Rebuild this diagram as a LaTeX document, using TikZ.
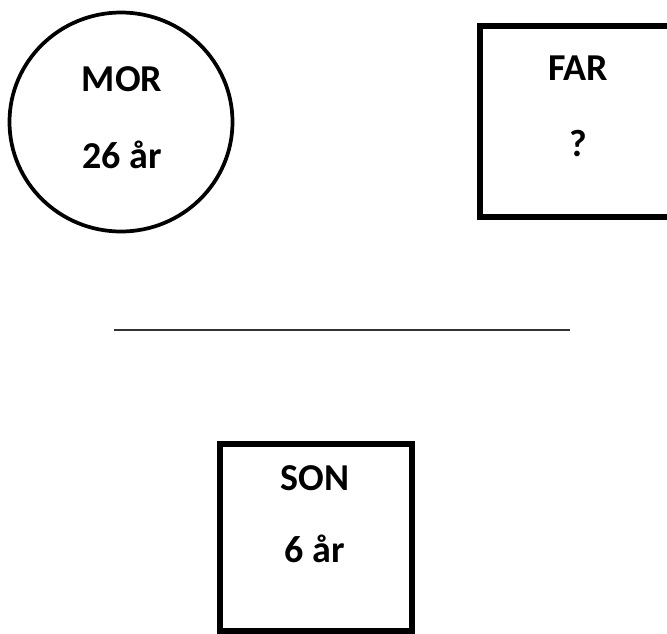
\documentclass[tikz,border=0pt]{standalone}
\usepackage{fontspec}
\setmainfont{Carlito}
\usetikzlibrary{shapes.geometric}
\begin{document}
\begin{tikzpicture}[x=0.75pt,y=-0.75pt,
  lbl/.style={font=\bfseries\fontsize{28.5}{33}\selectfont, inner sep=0pt, anchor=base},
  circ/.style={draw=black, line width=2.8pt, ellipse, inner sep=0pt, minimum width=223*0.75pt, minimum height=219*0.75pt},
  boxy/.style={draw=black, line width=4.2pt, rectangle, inner sep=0pt},
  rule/.style={draw=black!80, line width=1.3pt}]
\useasboundingbox (0,0) rectangle (667,633);
\clip (0,0) rectangle (667,633);
% MOR
\node[circ] (mor) at (121,122) {};
\node[lbl] (morname) at (122,91) {MOR};
\node[lbl] (morage) at (122,168) {26 år};
% FAR
\node[boxy, minimum width=192*0.75pt, minimum height=191*0.75pt] (far) at (576,121.5) {};
\node[lbl] (farname) at (578,80) {FAR};
\node[lbl] (farage) at (578,156) {?};
% line
\coordinate (l1) at (114,330);
\coordinate (l2) at (570,330);
\draw[rule] (l1) -- (l2);
% SON
\node[boxy, minimum width=192*0.75pt, minimum height=187*0.75pt] (son) at (316,537.5) {};
\node[lbl] (sonname) at (315,490) {SON};
\node[lbl] (sonage) at (315,562) {6 år};
\end{tikzpicture}
\end{document}
